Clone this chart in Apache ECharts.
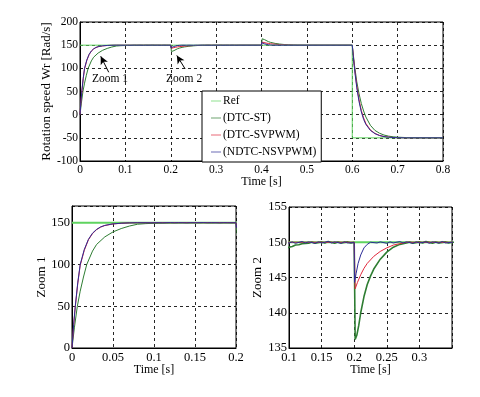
<!DOCTYPE html>
<html lang="en">
<head>
  <meta http-equiv="Content-Type" content="text/html; charset=UTF-8">
  <title>Rotation speed</title>
  <style>
    html, body { margin: 0; padding: 0; background: #fff; }
  </style>
</head>
<body>
  <div id="chart" style="width: 480px; height: 397px;"></div>
  <script src="https://cdn.jsdelivr.net/npm/echarts@6/dist/echarts.min.js"></script>
  <script>
    // series names as they appear in the legend
    const names = ['Ref', '(DTC-ST)', '(DTC-SVPWM)', '(NDTC-NSVPWM)'];
    const colors = ['#5fd35f', '#2e7d32', '#e0283c', '#2c2c96'];

    // [time s, speed rad/s]
    const refPts = [[0, 150], [0.6, 150], [0.6, -50], [0.8, -50]];

    const stPts = [
      [0, 0], [0.003, 25], [0.0065, 50], [0.01, 68], [0.014, 85], [0.018, 100], [0.025, 116],
      [0.03, 124], [0.04, 133], [0.05, 139], [0.06, 143], [0.07, 146], [0.08, 148.2], [0.09, 148.9],
      [0.1, 149.3], [0.105, 149.4], [0.11, 149.6], [0.115, 149.65], [0.12, 149.8], [0.13, 149.85],
      [0.135, 150.05], [0.14, 149.85], [0.15, 150.05], [0.155, 149.9], [0.16, 150.1], [0.17, 149.85],
      [0.175, 150.05], [0.18, 149.9], [0.19, 150.05], [0.195, 149.9], [0.2, 150],
      [0.2015, 136.2], [0.204, 136.8], [0.207, 138.2], [0.21, 140], [0.215, 142.3], [0.22, 144],
      [0.225, 145.2], [0.23, 146.2], [0.24, 147.6], [0.25, 148.6], [0.26, 149.3], [0.27, 149.7],
      [0.28, 149.9], [0.285, 150.05], [0.29, 149.85], [0.3, 150.05], [0.305, 149.9], [0.31, 150.1],
      [0.32, 149.85], [0.325, 150.05], [0.33, 149.9], [0.34, 150.05], [0.345, 149.9], [0.35, 150],
      [0.4, 150], [0.4015, 163.8], [0.404, 163.2], [0.407, 161.8], [0.41, 160], [0.415, 157.7],
      [0.42, 156], [0.43, 153.8], [0.44, 152.4], [0.45, 151.4], [0.46, 150.7], [0.47, 150.3],
      [0.48, 150.1], [0.5, 150], [0.6, 150],
      [0.605, 106], [0.61, 71], [0.615, 45], [0.62, 24], [0.625, 8], [0.63, -5], [0.64, -23],
      [0.65, -34], [0.66, -40], [0.67, -44], [0.68, -46.3], [0.69, -47.8], [0.7, -48.6],
      [0.72, -49.5], [0.75, -50], [0.8, -50]
    ];

    const svPts = [
      [0, 0], [0.002, 27], [0.004, 49], [0.007, 77], [0.01, 99], [0.015, 117], [0.02, 129.5],
      [0.025, 137], [0.03, 141.7], [0.035, 144.8], [0.04, 146.6], [0.05, 148.5], [0.06, 149.3],
      [0.07, 149.8], [0.08, 150], [0.2, 150],
      [0.2015, 143.4], [0.205, 144.3], [0.21, 145.4], [0.215, 146.3], [0.22, 147], [0.23, 148],
      [0.24, 148.7], [0.25, 149.2], [0.26, 149.6], [0.27, 149.8], [0.28, 150], [0.4, 150],
      [0.4015, 156.6], [0.405, 155.7], [0.41, 154.6], [0.415, 153.7], [0.42, 153], [0.43, 152],
      [0.44, 151.3], [0.45, 150.8], [0.46, 150.4], [0.47, 150.2], [0.48, 150], [0.6, 150],
      [0.603, 120], [0.606, 93], [0.61, 62], [0.615, 32], [0.62, 9], [0.625, -7], [0.63, -19],
      [0.64, -33], [0.65, -40.5], [0.66, -44.8], [0.67, -47.2], [0.68, -48.5], [0.69, -49.3],
      [0.7, -49.7], [0.72, -50], [0.8, -50]
    ];

    const nsPts = [
      [0, 0], [0.002, 28], [0.004, 50], [0.007, 78], [0.01, 100], [0.015, 118], [0.02, 130],
      [0.025, 137.5], [0.03, 142], [0.035, 145], [0.04, 146.8], [0.05, 148.6], [0.06, 149.4],
      [0.07, 149.8], [0.08, 150], [0.1, 149.9], [0.105, 150.05], [0.11, 149.85], [0.12, 150.1],
      [0.125, 149.9], [0.13, 150.05], [0.14, 149.85], [0.145, 150.05], [0.15, 149.9], [0.16, 150.1],
      [0.165, 149.9], [0.17, 150.05], [0.18, 149.85], [0.185, 150.05], [0.19, 149.9], [0.2, 149.95],
      [0.2005, 144.3], [0.203, 145.6], [0.206, 147], [0.21, 148.2], [0.215, 149.2], [0.22, 149.7],
      [0.225, 150], [0.235, 149.9], [0.24, 150.05], [0.25, 149.85], [0.255, 150.05], [0.26, 149.9],
      [0.27, 150.1], [0.275, 149.9], [0.28, 150.05], [0.29, 149.85], [0.295, 150.05], [0.3, 149.9],
      [0.31, 150.05], [0.315, 149.85], [0.32, 150.05], [0.33, 149.9], [0.335, 150.1], [0.34, 149.9],
      [0.35, 150], [0.4, 150],
      [0.4005, 155.7], [0.403, 154.4], [0.406, 153], [0.41, 151.8], [0.415, 150.8], [0.42, 150.3],
      [0.425, 150], [0.6, 150],
      [0.603, 118], [0.606, 90], [0.61, 58], [0.615, 28], [0.62, 6], [0.625, -10], [0.63, -21],
      [0.64, -34], [0.65, -41], [0.66, -45], [0.67, -47.3], [0.68, -48.6], [0.69, -49.3],
      [0.7, -49.7], [0.72, -50], [0.8, -50]
    ];

    // annotation anchors (data space) for the "Zoom" callouts
    const zoomNotes = [
      { label: 'Zoom 1', text: [0.0662, 76], from: [0.0633, 91.5], to: [0.0457, 126] },
      { label: 'Zoom 2', text: [0.2295, 76], from: [0.2317, 98.8], to: [0.2134, 127.7] }
    ];

    const seriesData = [refPts, stPts, svPts, nsPts];

    const font = 'Liberation Serif';
    const black = '#000';
    const gridLine = { show: true, lineStyle: { color: '#000', type: [3, 3], width: 1, opacity: 0.85 } };

    function xAxis(gridIndex, min, max, interval, fs, gap) {
      return {
        type: 'value', gridIndex, min, max, interval,
        name: 'Time [s]', nameLocation: 'middle', nameGap: gap, nameMoveOverlap: false,
        nameTextStyle: { fontFamily: font, fontSize: 12, color: black },
        axisLine: { show: true, onZero: false, lineStyle: { color: black } },
        axisTick: { show: false },
        axisLabel: {
          fontFamily: font, fontSize: fs, color: black, margin: 3,
          formatter: (v) => (max === 0.35 && v > 0.34) ? '' : String(+v.toFixed(3))
        },
        splitLine: gridLine
      };
    }

    function yAxis(gridIndex, min, max, interval, name, fs, gap, step) {
      return {
        type: 'value', gridIndex, min, max, interval,
        name, nameLocation: 'middle', nameGap: gap, nameMoveOverlap: false,
        nameTextStyle: { fontFamily: font, fontSize: 13, color: black },
        axisLine: { show: true, onZero: false, lineStyle: { color: black } },
        axisTick: { show: false },
        axisLabel: {
          fontFamily: font, fontSize: fs, color: black, margin: 2,
          formatter: (v) => (v % step === 0 ? String(v) : '')
        },
        splitLine: gridLine
      };
    }

    const series = [];
    [0, 1, 2].forEach((g) => {
      names.forEach((n, i) => {
        const s = {
          name: n, type: 'line', xAxisIndex: g, yAxisIndex: g,
          data: seriesData[i], symbol: 'none', showSymbol: false, animation: false,
          lineStyle: { color: colors[i], width: i === 0 && g > 0 ? 2 : (i === 1 && g === 2 ? 1.6 : 1) },
          itemStyle: { color: colors[i] },
          z: i === 0 && g === 0 ? 5 : 2 + i
        };
        if (g === 0 && i === 0) {
          s.markLine = {
            silent: true, animation: false,
            symbol: ['none', 'arrow'], symbolSize: [6, 8],
            label: { show: false },
            lineStyle: { color: black, width: 1, type: 'solid' },
            data: zoomNotes.map((z) => [{ coord: z.from }, { coord: z.to }])
          };
          s.markPoint = {
            silent: true, animation: false,
            symbol: 'circle', symbolSize: 0,
            label: {
              show: true, position: 'inside', formatter: '{b}',
              fontFamily: font, fontSize: 11.5, color: black
            },
            data: zoomNotes.map((z) => ({ name: z.label, coord: z.text }))
          };
        }
        series.push(s);
      });
    });

    const chart = echarts.init(document.getElementById('chart'));
    chart.setOption({
      backgroundColor: '#fff',
      animation: false,
      legend: {
        data: names,
        orient: 'vertical',
        left: 202, top: 91,
        padding: [4, 5, 4, 9],
        itemGap: 5, itemWidth: 10, itemHeight: 12,
        icon: 'path://M0,0 L20,0 L20,1.4 L0,1.4 Z',
        borderColor: black, borderWidth: 1, backgroundColor: '#fff',
        textStyle: { fontFamily: font, fontSize: 11.5, color: black, padding: [0, 0, 0, -3] }
      },
      grid: [
        { left: 80, right: 37, top: 22, bottom: 236, show: true, borderColor: black, borderWidth: 1 },
        { left: 72, right: 244, top: 206, bottom: 49, show: true, borderColor: black, borderWidth: 1 },
        { left: 289, right: 28, top: 207, bottom: 49, show: true, borderColor: black, borderWidth: 1 }
      ],
      xAxis: [
        xAxis(0, 0, 0.8, 0.1, 11.5, 15),
        xAxis(1, 0, 0.2, 0.05, 12.5, 16),
        xAxis(2, 0.1, 0.35, 0.05, 12.5, 16)
      ],
      yAxis: [
        yAxis(0, -100, 200, 50, 'Rotation speed Wr [Rad/s]', 11.5, 27, 50),
        yAxis(1, 0, 170, 50, 'Zoom 1', 12.5, 24, 50),
        yAxis(2, 135, 155, 5, 'Zoom 2', 12.5, 25, 5)
      ],
      series
    });
  </script>
</body>
</html>
